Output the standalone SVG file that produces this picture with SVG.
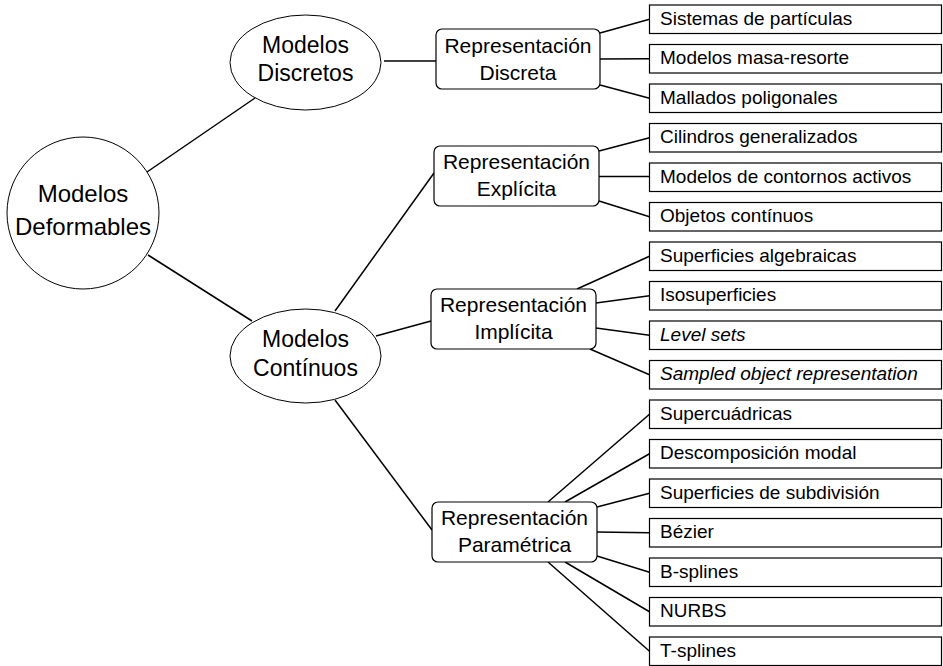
<svg xmlns="http://www.w3.org/2000/svg" width="943" height="666" viewBox="0 0 943 666">
<style>
  .edge { stroke: #000; stroke-width: 1.5; fill: none; }
  .oval { fill: #fff; stroke: #000; stroke-width: 1; }
  .rep { fill: #fff; stroke: #000; stroke-width: 1.2; }
  .leaf { fill: #fff; stroke: #000; stroke-width: 1.2; }
  text { font-family: "Liberation Sans", Arial, sans-serif; fill: #000; }
  .big { font-size: 24px; text-anchor: middle; }
  .mid { font-size: 23px; text-anchor: middle; }
  .rept { font-size: 21px; text-anchor: middle; }
  .lt { font-size: 19px; }
  .it { font-style: italic; }
</style>
<rect width="943" height="666" fill="#fff"/>
<g id="connectors">
  <line class="edge" x1="147" y1="172" x2="255" y2="98"/>
  <line class="edge" x1="148" y1="255" x2="252" y2="321"/>
  <line class="edge" x1="384" y1="61" x2="436" y2="61"/>
  <line class="edge" x1="335" y1="311" x2="434" y2="173"/>
  <line class="edge" x1="376" y1="336" x2="431" y2="321"/>
  <line class="edge" x1="335" y1="400" x2="432" y2="530"/>
  <line class="edge" x1="600" y1="33" x2="649.5" y2="19.25"/>
  <line class="edge" x1="600" y1="59" x2="649.5" y2="58.75"/>
  <line class="edge" x1="600" y1="85" x2="649.5" y2="98.25"/>
  <line class="edge" x1="599" y1="151" x2="649.5" y2="137.75"/>
  <line class="edge" x1="599" y1="176.5" x2="649.5" y2="176.5"/>
  <line class="edge" x1="599" y1="201" x2="649.5" y2="216.75"/>
  <line class="edge" x1="577" y1="289" x2="649.5" y2="256.25"/>
  <line class="edge" x1="596" y1="303" x2="649.5" y2="295.75"/>
  <line class="edge" x1="596" y1="328" x2="649.5" y2="335.25"/>
  <line class="edge" x1="590" y1="349" x2="649.5" y2="374.75"/>
  <line class="edge" x1="548" y1="502" x2="649.5" y2="414.25"/>
  <line class="edge" x1="565" y1="502" x2="649.5" y2="453.75"/>
  <line class="edge" x1="597" y1="507" x2="649.5" y2="493.25"/>
  <line class="edge" x1="597" y1="532" x2="649.5" y2="532.75"/>
  <line class="edge" x1="597" y1="556" x2="649.5" y2="572.25"/>
  <line class="edge" x1="565" y1="562" x2="649.5" y2="611.75"/>
  <line class="edge" x1="548" y1="562" x2="649.5" y2="651.25"/>
</g>
<g id="modelos-deformables">
  <circle class="oval" cx="83" cy="213" r="76"/>
  <text class="big" x="83" y="202">Modelos</text>
  <text class="big" x="83" y="235">Deformables</text>
</g>
<g id="modelos-discretos">
  <ellipse class="oval" cx="305.5" cy="62.5" rx="75.5" ry="47.5"/>
  <text class="mid" x="305.5" y="53">Modelos</text>
  <text class="mid" x="305.5" y="81">Discretos</text>
</g>
<g id="modelos-continuos">
  <ellipse class="oval" cx="305.5" cy="356" rx="75.5" ry="47"/>
  <text class="mid" x="305.5" y="347">Modelos</text>
  <text class="mid" x="305.5" y="376">Contínuos</text>
</g>
<g id="rep-discreta">
  <rect class="rep" x="436" y="29" width="164" height="60" rx="6"/>
  <text class="rept" x="518" y="53">Representación</text>
  <text class="rept" x="518" y="80">Discreta</text>
</g>
<g id="rep-explicita">
  <rect class="rep" x="434" y="146" width="165" height="60" rx="6"/>
  <text class="rept" x="516.5" y="169">Representación</text>
  <text class="rept" x="516.5" y="196">Explícita</text>
</g>
<g id="rep-implicita">
  <rect class="rep" x="431" y="289" width="165" height="60" rx="6"/>
  <text class="rept" x="513.5" y="312">Representación</text>
  <text class="rept" x="513.5" y="339">Implícita</text>
</g>
<g id="rep-parametrica">
  <rect class="rep" x="432" y="502" width="165" height="60" rx="6"/>
  <text class="rept" x="514.5" y="525">Representación</text>
  <text class="rept" x="514.5" y="552">Paramétrica</text>
</g>
<g id="leaf-sistemas"><rect class="leaf" x="649.5" y="5" width="292" height="28.5"/><text class="lt" x="660" y="24.5">Sistemas de partículas</text></g>
<g id="leaf-masa"><rect class="leaf" x="649.5" y="44.5" width="292" height="28.5"/><text class="lt" x="660" y="64">Modelos masa-resorte</text></g>
<g id="leaf-mallados"><rect class="leaf" x="649.5" y="84" width="292" height="28.5"/><text class="lt" x="660" y="103.5">Mallados poligonales</text></g>
<g id="leaf-cilindros"><rect class="leaf" x="649.5" y="123.5" width="292" height="28.5"/><text class="lt" x="660" y="143">Cilindros generalizados</text></g>
<g id="leaf-contornos"><rect class="leaf" x="649.5" y="163" width="292" height="28.5"/><text class="lt" x="660" y="182.5">Modelos de contornos activos</text></g>
<g id="leaf-objetos"><rect class="leaf" x="649.5" y="202.5" width="292" height="28.5"/><text class="lt" x="660" y="222">Objetos contínuos</text></g>
<g id="leaf-algebraicas"><rect class="leaf" x="649.5" y="242" width="292" height="28.5"/><text class="lt" x="660" y="261.5">Superficies algebraicas</text></g>
<g id="leaf-iso"><rect class="leaf" x="649.5" y="281.5" width="292" height="28.5"/><text class="lt" x="660" y="301">Isosuperficies</text></g>
<g id="leaf-levelsets"><rect class="leaf" x="649.5" y="321" width="292" height="28.5"/><text class="lt it" x="660" y="340.5">Level sets</text></g>
<g id="leaf-sampled"><rect class="leaf" x="649.5" y="360.5" width="292" height="28.5"/><text class="lt it" x="660" y="380">Sampled object representation</text></g>
<g id="leaf-supercuadricas"><rect class="leaf" x="649.5" y="400" width="292" height="28.5"/><text class="lt" x="660" y="419.5">Supercuádricas</text></g>
<g id="leaf-modal"><rect class="leaf" x="649.5" y="439.5" width="292" height="28.5"/><text class="lt" x="660" y="459">Descomposición modal</text></g>
<g id="leaf-subdivision"><rect class="leaf" x="649.5" y="479" width="292" height="28.5"/><text class="lt" x="660" y="498.5">Superficies de subdivisión</text></g>
<g id="leaf-bezier"><rect class="leaf" x="649.5" y="518.5" width="292" height="28.5"/><text class="lt" x="660" y="538">Bézier</text></g>
<g id="leaf-bsplines"><rect class="leaf" x="649.5" y="558" width="292" height="28.5"/><text class="lt" x="660" y="577.5">B-splines</text></g>
<g id="leaf-nurbs"><rect class="leaf" x="649.5" y="597.5" width="292" height="28.5"/><text class="lt" x="660" y="617">NURBS</text></g>
<g id="leaf-tsplines"><rect class="leaf" x="649.5" y="637" width="292" height="28.5"/><text class="lt" x="660" y="656.5">T-splines</text></g>
</svg>
